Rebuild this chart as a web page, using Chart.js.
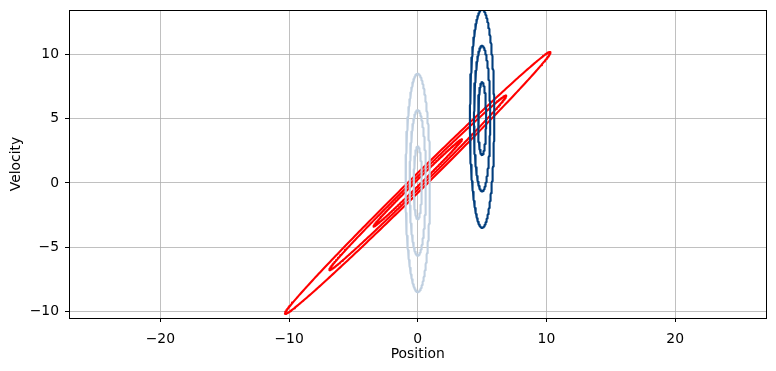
<!DOCTYPE html>
<html>
<head>
<meta charset="utf-8">
<style>
  html, body { margin: 0; padding: 0; background: #ffffff; }
  #c { display: block; }
</style>
<script src="https://cdn.jsdelivr.net/npm/chart.js@4.4.1/dist/chart.umd.min.js"></script>
</head>
<body>
<canvas id="c" width="776" height="371"></canvas>
<script>
// ---- Data ----
// Three nested phase-space ellipses (semi-axes in position and velocity)
const positionAmplitudes = [0.316, 0.632, 0.949];
const velocityAmplitudes = [2.83, 5.66, 8.49];
// Centre of the initial (light) ellipses and of the shifted (dark) ellipses
const initialCenter = [0, 0];
const shiftedCenter = [5, 5];
// Linear map applied to the initial ellipses to get the red (sheared) ones
const mapRow1 = [1.0, 1.21];
const mapRow2 = [0.17, 1.2];
// Axis limits and tick labels
const xLimits = [-27.1, 27.1];
const yLimits = [-10.5, 13.45];
const xTickValues = [-20, -10, 0, 10, 20];
const yTickValues = [-10, -5, 0, 5, 10];
const seriesColors = ['#bfcfe0', '#023e7d', '#ff0000'];

const N = 360;
function ellipse(ax, ay, cx, cy, m1, m2) {
  const pts = [];
  for (let i = 0; i <= N; i++) {
    const t = 2 * Math.PI * i / N;
    const x = ax * Math.cos(t);
    const y = ay * Math.sin(t);
    if (m1) {
      pts.push({ x: cx + m1[0] * x + m1[1] * y, y: cy + m2[0] * x + m2[1] * y });
    } else {
      pts.push({ x: cx + x, y: cy + y });
    }
  }
  return pts;
}

const datasets = [];
function addSet(data, color) {
  datasets.push({
    data, borderColor: color, backgroundColor: color, borderWidth: 2.1,
    showLine: true, pointRadius: 0, pointHoverRadius: 0, tension: 0, fill: false,
    borderJoinStyle: 'round', borderCapStyle: 'round'
  });
}
positionAmplitudes.forEach((a, i) => addSet(ellipse(a, velocityAmplitudes[i], initialCenter[0], initialCenter[1]), seriesColors[0]));
positionAmplitudes.forEach((a, i) => addSet(ellipse(a, velocityAmplitudes[i], shiftedCenter[0], shiftedCenter[1]), seriesColors[1]));
positionAmplitudes.forEach((a, i) => addSet(ellipse(a, velocityAmplitudes[i], initialCenter[0], initialCenter[1], mapRow1, mapRow2), seriesColors[2]));

const FONT = { family: '"DejaVu Sans", sans-serif', size: 13.9 };
const minus = v => String(v).replace('-', '\u2212');

const frame = {
  id: 'frame',
  afterDraw(chart) {
    const { ctx, chartArea: a } = chart;
    ctx.save();
    ctx.strokeStyle = '#000';
    ctx.lineWidth = 1;
    ctx.strokeRect(Math.round(a.left) + 0.5, Math.round(a.top) + 0.5,
                   Math.round(a.right - a.left) - 1, Math.round(a.bottom - a.top));
    ctx.restore();
  }
};

new Chart(document.getElementById('c'), {
  type: 'scatter',
  data: { datasets },
  plugins: [frame],
  options: {
    responsive: false,
    animation: false,
    devicePixelRatio: 1,
    layout: { padding: { left: 0, top: 10, right: 9.5, bottom: 0 } },
    plugins: { legend: { display: false }, tooltip: { enabled: false } },
    scales: {
      x: {
        type: 'linear', min: xLimits[0], max: xLimits[1],
        afterFit: s => { s.height = 53; s.paddingLeft = 0; s.paddingRight = 0; },
        afterBuildTicks: s => { s.ticks = xTickValues.map(v => ({ value: v })); },
        ticks: { includeBounds: false, color: '#000', font: FONT, padding: 9, maxRotation: 0, callback: minus },
        grid: { color: '#b0b0b0', lineWidth: 0.8, tickColor: '#000', tickLength: 4, tickWidth: 1 },
        border: { display: false },
        title: { display: true, text: 'Position', color: '#000', font: FONT, padding: { top: 0, bottom: 8.7 } }
      },
      y: {
        type: 'linear', min: yLimits[0], max: yLimits[1],
        afterFit: s => { s.width = 69; s.paddingTop = 0; s.paddingBottom = 0; },
        afterBuildTicks: s => { s.ticks = yTickValues.map(v => ({ value: v })); },
        ticks: { includeBounds: false, color: '#000', font: FONT, padding: 6, callback: minus },
        grid: { color: '#b0b0b0', lineWidth: 0.8, tickColor: '#000', tickLength: 4, tickWidth: 1 },
        border: { display: false },
        title: { display: true, text: 'Velocity', color: '#000', font: FONT, padding: { top: 7.7, bottom: 0 } }
      }
    }
  }
});
</script>
</body>
</html>
